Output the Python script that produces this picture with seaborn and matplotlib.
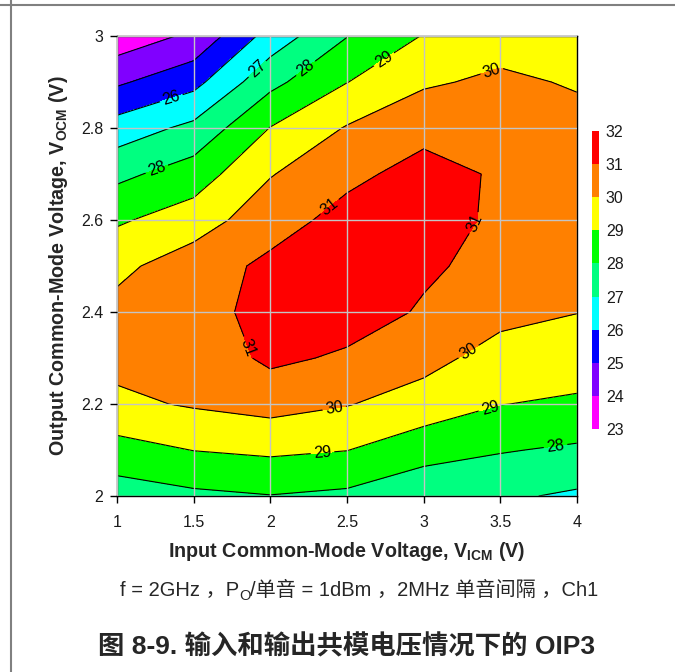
import numpy as np
import pandas as pd
import matplotlib
matplotlib.use("Agg")
import matplotlib.pyplot as plt
from matplotlib.lines import Line2D
import seaborn as sns

# Input common-mode voltage (V) columns and output common-mode voltage (V) rows
input_vcm = [1.0, 1.5, 2.0, 2.5, 3.0, 3.5, 4.0]
output_vcm = [2.0, 2.1, 2.2, 2.3, 2.4, 2.5, 2.6, 2.7, 2.8, 2.9, 3.0]

# OIP3 (dBm) for each V_ICM, listed from V_OCM = 2.0 V up to 3.0 V
oip3_vicm_1_0 = [27.50, 28.63, 29.79, 30.30, 30.30, 29.75, 28.87, 27.75, 26.44, 24.85, 23.36]
oip3_vicm_1_5 = [27.80, 29.02, 30.10, 30.35, 30.60, 30.55, 29.49, 28.48, 27.25, 25.69, 24.20]
oip3_vicm_2_0 = [27.97, 29.18, 30.36, 31.20, 31.35, 31.20, 30.62, 29.94, 29.03, 27.72, 26.40]
oip3_vicm_2_5 = [27.80, 29.02, 30.05, 30.86, 31.45, 31.50, 31.30, 30.79, 30.07, 28.98, 27.97]
oip3_vicm_3_0 = [27.28, 28.40, 29.57, 30.33, 30.90, 31.15, 31.35, 31.30, 30.75, 29.86, 29.05]
oip3_vicm_3_5 = [27.15, 28.07, 29.02, 29.60, 30.30, 30.70, 30.85, 30.90, 30.55, 30.20, 29.55]
oip3_vicm_4_0 = [26.85, 27.85, 28.86, 29.46, 30.02, 30.45, 30.60, 30.55, 30.35, 29.90, 29.55]

contour_levels = [23, 24, 25, 26, 27, 28, 29, 30, 31, 32]
level_colors = ["#FF00FF", "#8000FF", "#0000FF", "#00FFFF", "#00FF80",
                "#00FF00", "#FFFF00", "#FF8000", "#FF0000"]

x_ticks = [1.0, 1.5, 2.0, 2.5, 3.0, 3.5, 4.0]
x_tick_labels = ["1", "1.5", "2", "2.5", "3", "3.5", "4"]
y_ticks = [2.0, 2.2, 2.4, 2.6, 2.8, 3.0]
y_tick_labels = ["2", "2.2", "2.4", "2.6", "2.8", "3"]

x_label = r"Input Common-Mode Voltage, $\mathbf{V_{ICM}}$ (V)"
y_label = r"Output Common-Mode Voltage, $\mathbf{V_{OCM}}$ (V)"
caption_parts = ["f = 2GHz ，P", "O", "/单音 = 1dBm ，2MHz 单音间隔 ，Ch1"]
figure_title = "图 8-9. 输入和输出共模电压情况下的 OIP3"

df = pd.DataFrame({
    1.0: oip3_vicm_1_0, 1.5: oip3_vicm_1_5, 2.0: oip3_vicm_2_0, 2.5: oip3_vicm_2_5,
    3.0: oip3_vicm_3_0, 3.5: oip3_vicm_3_5, 4.0: oip3_vicm_4_0,
}, index=output_vcm)

sns.set_theme(style="ticks")
plt.rcParams["font.family"] = ["Liberation Sans", "Noto Sans CJK SC"]
plt.rcParams["mathtext.fontset"] = "custom"
plt.rcParams["mathtext.rm"] = "Liberation Sans"
plt.rcParams["mathtext.bf"] = "Liberation Sans:bold"

fig = plt.figure(figsize=(6.75, 6.72), dpi=100)
ax = fig.add_axes([0.1733, 0.2619, 0.6815, 0.6845])

X, Y = np.meshgrid(df.columns.values.astype(float), df.index.values)
Z = df.values
cf = ax.contourf(X, Y, Z, levels=contour_levels, colors=level_colors)
cs = ax.contour(X, Y, Z, levels=contour_levels, colors="black", linewidths=0.8)

# where the in-line labels sit, as in the original
label_spots = [(1.35, 2.87), (1.91, 2.93), (2.23, 2.93), (2.73, 2.955), (3.43, 2.94),
               (1.25, 2.72), (2.36, 2.64), (3.30, 2.60), (1.87, 2.325),
               (2.42, 2.183), (2.34, 2.096), (3.30, 2.31), (3.43, 2.196), (3.86, 2.109)]
ax.clabel(cs, levels=contour_levels, manual=label_spots, fmt="%d",
          fontsize=11.5, inline=True, inline_spacing=3)

ax.set_xlim(1, 4)
ax.set_ylim(2, 3)
ax.set_xticks(x_ticks, x_tick_labels)
ax.set_yticks(y_ticks, y_tick_labels)
ax.grid(True, color="#c4c4c4", linewidth=1.0)
ax.set_axisbelow(False)
for s in ax.spines.values():
    s.set_color("black")
    s.set_linewidth(1.0)
ax.tick_params(axis="both", direction="out", length=5, width=1, color="black",
               labelsize=11.5, labelcolor="#1a1a1a")
ax.tick_params(axis="x", pad=9)
ax.tick_params(axis="y", pad=5)

ax.set_xlabel(x_label, fontsize=14.2, fontweight="bold")
ax.xaxis.label.set_va("center")
ax.xaxis.set_label_coords(0.5, -0.12)
ax.set_ylabel(y_label, fontsize=14.2, fontweight="bold")
ax.yaxis.label.set_va("center")
ax.yaxis.set_label_coords(-0.128, 0.5)

cax = fig.add_axes([0.877, 0.3616, 0.0104, 0.4435])
cb = fig.colorbar(cf, cax=cax, ticks=contour_levels)
cb.outline.set_visible(False)
cax.tick_params(length=0, labelsize=11.5, pad=5, labelcolor="#1a1a1a")

# caption line with the subscript O built from pieces
t1 = fig.text(120 / 675, 1 - 596 / 672, caption_parts[0], fontsize=14.5, va="baseline")
t2 = ax.annotate(caption_parts[1], xy=(1, 0), xycoords=t1, xytext=(0, -2.5),
                 textcoords="offset points", fontsize=10.5, va="bottom", ha="left")
ax.annotate(caption_parts[2], xy=(1, 0), xycoords=t2, xytext=(0, 2.5),
            textcoords="offset points", fontsize=14.5, va="bottom", ha="left")

fig.text(347 / 675, 1 - 647 / 672, figure_title, fontsize=19, fontweight="bold",
         ha="center", va="center")

# page frame lines
fig.add_artist(Line2D([0, 1], [1 - 5 / 672, 1 - 5 / 672], transform=fig.transFigure,
                      color="#808080", linewidth=1.5))
fig.add_artist(Line2D([11 / 675, 11 / 675], [0, 1], transform=fig.transFigure,
                      color="#808080", linewidth=1.5))

fig.savefig("out.png", dpi=100)
